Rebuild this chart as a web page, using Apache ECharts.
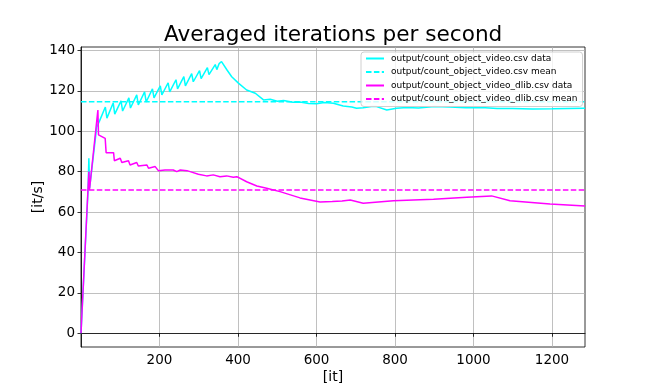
<!DOCTYPE html>
<html>
<head>
<meta charset="utf-8">
<script src="https://cdn.jsdelivr.net/npm/echarts@6/dist/echarts.min.js"></script>
<style>
html,body{margin:0;padding:0;background:#fff;}
#c{width:650px;height:390px;}
</style>
</head>
<body>
<div id="c"></div>
<script>
const titleText = 'Averaged iterations per second';
const xTicks = [200, 400, 600, 800, 1000, 1200];
const yTicks = [0, 20, 40, 60, 80, 100, 120, 140];
const seriesNames = [
  'output/count_object_video.csv data',
  'output/count_object_video.csv mean',
  'output/count_object_video_dlib.csv data',
  'output/count_object_video_dlib.csv mean'
];
const videoData = [
  [0,0],[18,71],[20,86.6],[22,72],[40,102],[47,105],[62,112],[66,106.5],[82,114],[86,108.5],
  [102,115],[106,110],[122,116.5],[126,111.5],[142,118],[146,113],[162,119.5],[166,114.5],
  [182,121],[186,116.5],[202,122.5],[206,118],[222,124],[226,119.5],[242,125.5],[246,121],
  [262,127],[266,122.5],[282,128.5],[286,124.5],[302,130],[306,126],[322,131.5],[326,128],
  [342,133],[346,130.5],[352,133.5],[358,134.5],[372,130.3],[384,127],[401,123.8],[422,120.4],
  [444,118.8],[465,115.5],[482,115.8],[500,114.8],[516,115.2],[540,114.3],[558,114.5],[580,113.7],
  [600,113.6],[620,114.2],[643,113.9],[668,112.5],[690,112],[702,111.4],[719,111.6],[740,112.3],
  [753,112.2],[779,110.5],[804,111.4],[830,111.8],[860,111.5],[900,112.2],[940,112],[980,111.6],
  [1020,111.8],[1060,111.3],[1100,111.2],[1150,111],[1200,111.1],[1240,111.3],[1284,111.4]
];
const videoMean = 114.6;
const dlibData = [
  [0,0],[20,80],[21.6,71],[43,110.5],[44.6,98.2],[61.6,96.5],[64,89.4],[83,89.4],[85,85.4],
  [100,86.6],[104,84.5],[121,85.4],[125,83.3],[142,84.5],[146,82.8],[168,83.3],[172,81.7],
  [189,82.5],[197,80.5],[214,80.8],[219,80],[235,80.8],[244,80],[253,80.8],[270,80.5],[278,80],
  [299,78.7],[320,77.9],[337,78.4],[354,77.5],[371,77.9],[388,77.2],[397,77.5],[422,75],
  [448,72.9],[473,71.8],[507,70.1],[558,67],[609,65],[640,65.2],[665,65.5],[686,66],[719,64.4],
  [796,65.6],[898,66.3],[983,67.3],[1046,68],[1093,65.6],[1195,64],[1284,63]
];
const dlibMean = 70.9;
const xMin = 0, xMax = 1284;
const yMin = -6.8, yMax = 141.7;

const cyan = '#00ffff', magenta = '#ff00ff';
const font = 'DejaVu Sans';
const dash = [5.5, 2.4];

const chart = echarts.init(document.getElementById('c'), null, {renderer: 'canvas'});
chart.setOption({
  animation: false,
  backgroundColor: '#ffffff',
  title: {
    text: titleText,
    left: 159, top: 19,
    textStyle: {fontFamily: font, fontSize: 21.6, fontWeight: 'normal', color: '#000'}
  },
  grid: {left: 81, right: 65, top: 47, bottom: 43, show: true, borderColor: '#000', borderWidth: 0.8, backgroundColor: 'transparent'},
  legend: {
    orient: 'vertical',
    left: 361, top: 52,
    padding: [2, 5, 3, 4],
    itemWidth: 18, itemHeight: 10, itemGap: 4.5,
    itemStyle: {opacity: 0},
    backgroundColor: 'rgba(255,255,255,0.8)',
    borderColor: '#d0d0d0', borderWidth: 1, borderRadius: 3,
    textStyle: {fontFamily: font, fontSize: 9, color: '#000', padding: [0,0,0,2]},
    data: seriesNames
  },
  xAxis: {
    type: 'value', min: xMin, max: xMax,
    name: '[it]', nameLocation: 'middle', nameGap: 23, nameMoveOverlap: false,
    nameTextStyle: {fontFamily: font, fontSize: 14, color: '#000'},
    axisLine: {show: true, lineStyle: {color: '#000', width: 0.8}},
    axisTick: {show: true, length: 3.5, inside: false, customValues: xTicks, lineStyle: {color: '#000', width: 0.8}},
    axisLabel: {customValues: xTicks, formatter: v => String(v), margin: 6, fontFamily: font, fontSize: 13.5, color: '#000'},
    splitLine: {show: true, lineStyle: {color: '#b0b0b0', width: 0.8}}
  },
  yAxis: {
    type: 'value', min: yMin, max: yMax,
    name: '[it/s]', nameLocation: 'middle', nameGap: 36, nameMoveOverlap: false,
    nameTextStyle: {fontFamily: font, fontSize: 14, color: '#000'},
    axisLine: {show: true, lineStyle: {color: '#000', width: 0.8}},
    axisTick: {show: true, length: 3.5, inside: false, customValues: yTicks, lineStyle: {color: '#000', width: 0.8}},
    axisLabel: {customValues: yTicks, formatter: v => String(v), margin: 6, fontFamily: font, fontSize: 13.5, color: '#000'},
    splitLine: {show: true, lineStyle: {color: '#b0b0b0', width: 0.8}}
  },
  series: [
    {name: seriesNames[0], type: 'line', data: videoData, symbol: 'none', clip: true,
     lineStyle: {color: cyan, width: 1.5}, itemStyle: {color: cyan}},
    {name: seriesNames[1], type: 'line', data: [[xMin, videoMean], [xMax, videoMean]], symbol: 'none', clip: true,
     lineStyle: {color: cyan, width: 1.5, type: dash}, itemStyle: {color: cyan}},
    {name: seriesNames[2], type: 'line', data: dlibData, symbol: 'none', clip: true,
     lineStyle: {color: magenta, width: 1.5}, itemStyle: {color: magenta}},
    {name: seriesNames[3], type: 'line', data: [[xMin, dlibMean], [xMax, dlibMean]], symbol: 'none', clip: true,
     lineStyle: {color: magenta, width: 1.5, type: dash}, itemStyle: {color: magenta}}
  ]
});
</script>
</body>
</html>
